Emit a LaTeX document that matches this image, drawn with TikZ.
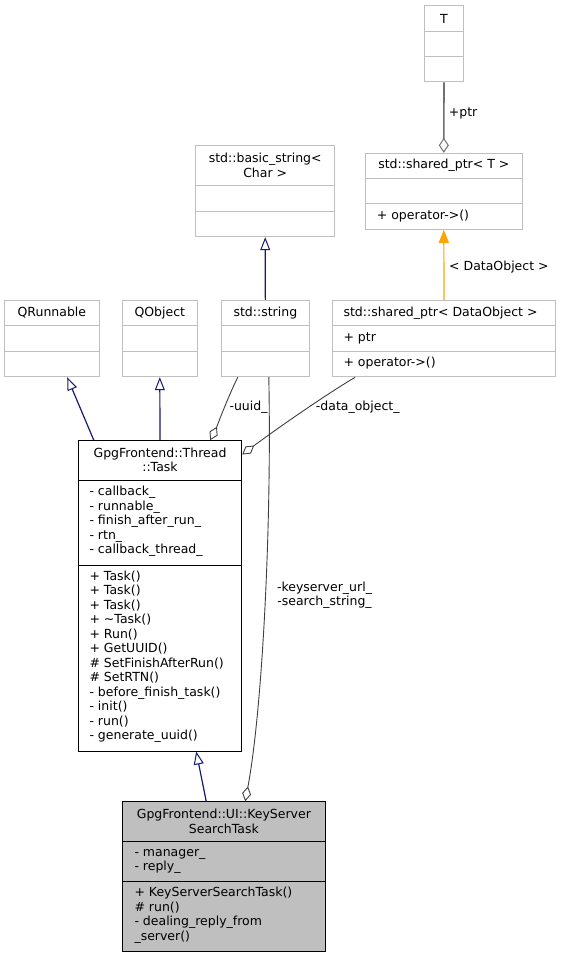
\documentclass[tikz,border=0pt]{standalone}
\usepackage{fontspec}
\setmainfont{DejaVu Sans}
\usetikzlibrary{arrows.meta}
\definecolor{grayb}{HTML}{BFBFBF}
\definecolor{navyc}{HTML}{191970}
\definecolor{edgegray}{HTML}{404040}
\definecolor{ptrgray}{HTML}{707070}
\definecolor{orng}{HTML}{FFA500}
\begin{document}
\begin{tikzpicture}[x=1pt,y=-1pt,
  font=\fontsize{12.5}{14.5}\selectfont,
  extbox/.style={draw=grayb, line width=1pt, fill=white, inner sep=0pt},
  mainbox/.style={draw=black, line width=1pt, fill=white, inner sep=0pt},
  curbox/.style={draw=black, line width=1pt, fill=grayb, inner sep=0pt},
  txt/.style={inner sep=0pt, align=left, anchor=west},
  ttl/.style={inner sep=0pt, align=center},
  lbl/.style={inner sep=0pt, anchor=west},
  extdiv/.style={draw=grayb, line width=1pt},
  maindiv/.style={draw=black, line width=1pt},
  inh/.style={draw=navyc, line width=1.2pt, -{Triangle[open, length=13pt, width=10pt, line width=1pt]}},
  comp/.style={draw=edgegray, line width=0.9pt, -{Diamond[open, length=15pt, width=9pt]}},
  ptrcomp/.style={draw=ptrgray, line width=1.6pt, -{Diamond[open, length=15pt, width=10pt, line width=1pt]}},
  tmpl/.style={draw=orng, line width=1.2pt, -{Triangle[length=13pt, width=10pt]}}
]
\path[use as bounding box, fill=white] (0,0) rectangle (561,957);

% T
\node[extbox, minimum width=38.6pt, minimum height=76.3pt] (T) at (444,43.85) {};
\draw[extdiv] (424.7,31.7) -- (463.3,31.7);
\draw[extdiv] (424.7,56.7) -- (463.3,56.7);
\node[ttl] (Tt) at (444,18.5) {T};

% std::basic_string< Char >
\node[extbox, minimum width=139pt, minimum height=91pt] (bs) at (265.2,191.2) {};
\draw[extdiv] (195.7,186) -- (334.7,186);
\draw[extdiv] (195.7,211.3) -- (334.7,211.3);
\node[ttl] (bst) at (265.2,165.5) {std::basic\_string<\\Char >};

% std::shared_ptr< T >
\node[extbox, minimum width=157pt, minimum height=76pt] (spT) at (443.8,191.3) {};
\draw[extdiv] (365.3,178.7) -- (522.3,178.7);
\draw[extdiv] (365.3,204) -- (522.3,204);
\node[ttl] (spTt) at (443.8,165.5) {std::shared\_ptr< T >};
\node[txt] (spTm) at (376.7,216.5) {+ operator->()};

% QRunnable
\node[extbox, minimum width=94.3pt, minimum height=76.4pt] (qr) at (51.85,338.5) {};
\draw[extdiv] (4.7,325.7) -- (99,325.7);
\draw[extdiv] (4.7,351.3) -- (99,351.3);
\node[ttl] (qrt) at (51.85,313) {QRunnable};

% QObject
\node[extbox, minimum width=75pt, minimum height=76.4pt] (qo) at (159.8,338.5) {};
\draw[extdiv] (122.3,325.7) -- (197.3,325.7);
\draw[extdiv] (122.3,351.3) -- (197.3,351.3);
\node[ttl] (qot) at (159.8,313) {QObject};

% std::string
\node[extbox, minimum width=87.3pt, minimum height=76.4pt] (str) at (265.35,338.5) {};
\draw[extdiv] (221.7,325.7) -- (309,325.7);
\draw[extdiv] (221.7,351.3) -- (309,351.3);
\node[ttl] (strt) at (265.35,313) {std::string};

% std::shared_ptr< DataObject >
\node[extbox, minimum width=222.6pt, minimum height=76.4pt] (spD) at (444,338.5) {};
\draw[extdiv] (332.7,325.7) -- (555.3,325.7);
\draw[extdiv] (332.7,351.3) -- (555.3,351.3);
\node[txt] (spDt) at (343.3,313) {std::shared\_ptr< DataObject >};
\node[txt] (spDa) at (343.3,338) {+ ptr};
\node[txt] (spDm) at (343.3,362.8) {+ operator->()};

% GpgFrontend::Thread::Task
\node[mainbox, minimum width=163.4pt, minimum height=310.3pt] (task) at (160,595.85) {};
\draw[maindiv] (78.3,480.7) -- (241.7,480.7);
\draw[maindiv] (78.3,565) -- (241.7,565);
\node[ttl] (taskt) at (160,460) {GpgFrontend::Thread\\::Task};
\node[txt] (taska) at (89.3,521.5) {- callback\_\\- runnable\_\\- finish\_after\_run\_\\- rtn\_\\- callback\_thread\_};
\node[txt] (taskm) at (89.3,656.5) {+ Task()\\+ Task()\\+ Task()\\+ \textasciitilde Task()\\+ Run()\\+ GetUUID()\\\# SetFinishAfterRun()\\\# SetRTN()\\- before\_finish\_task()\\- init()\\- run()\\- generate\_uuid()};

% GpgFrontend::UI::KeyServerSearchTask
\node[curbox, minimum width=202.3pt, minimum height=150pt] (ksst) at (223.85,876.7) {};
\draw[maindiv] (122.7,841.7) -- (325,841.7);
\draw[maindiv] (122.7,881.7) -- (325,881.7);
\node[ttl] (ksstt) at (223.85,821.5) {GpgFrontend::UI::KeyServer\\SearchTask};
\node[txt] (kssta) at (134.3,861.5) {- manager\_\\- reply\_};
\node[txt] (ksstm) at (134.3,915.3) {+ KeyServerSearchTask()\\\# run()\\- dealing\_reply\_from\\\_server()};

% edges
\draw[ptrcomp] (T.south) -- (spT.north);
\node[lbl] (lptr) at (448.7,113.3) {+ptr};

\draw[inh] (str.north) -- (bs.south);

\draw[tmpl] (spD.north) -- (spT.south);
\node[lbl] (ldo) at (449,267.3) {< DataObject >};

\draw[inh] ([xshift=16pt]task.north west) -- ([xshift=63pt]qr.south west);
\draw[inh] (task.north) -- (qo.south);

\draw[comp] ([xshift=16.6pt]str.south west) .. controls +(-10,20) and +(6,-12) .. ([xshift=132.4pt]task.north west);
\node[lbl] (luuid) at (229.3,407.3) {-uuid\_};

\draw[comp] ([xshift=23pt]spD.south west) .. controls +(-40,24) and +(20,-15) .. ([yshift=-14.3pt]task.north east);
\node[lbl] (ldata) at (315.7,407.3) {-data\_object\_};

\draw[comp] ([xshift=47.6pt]str.south west) .. controls +(3,150) and +(17,-90) .. ([xshift=123pt]ksst.north west);
\node[ttl] (lkey) at (324.5,595.3) {-keyserver\_url\_\\-search\_string\_};

\draw[inh] ([xshift=84pt]ksst.north west) -- ([xshift=118.4pt]task.south west);
\end{tikzpicture}
\end{document}
